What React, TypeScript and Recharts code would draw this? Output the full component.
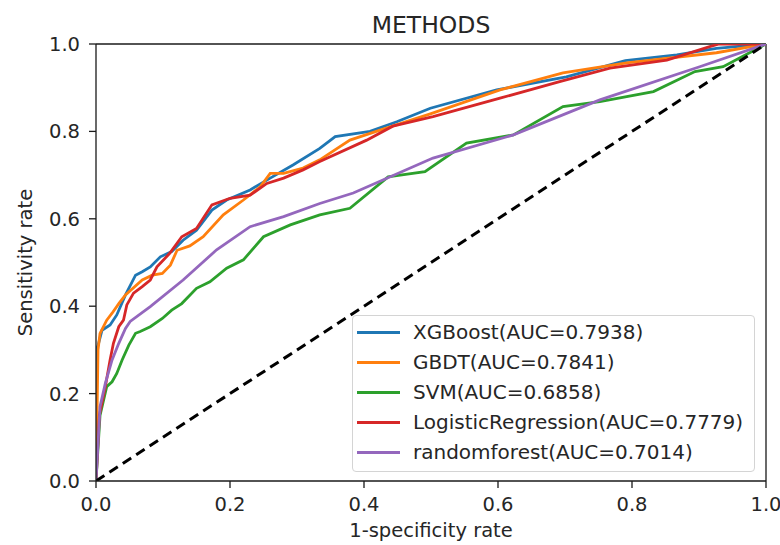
import React from 'react';
import { LineChart, Line, XAxis, YAxis, ReferenceLine } from 'recharts';

const FONT = '"DejaVu Sans", "Liberation Sans", sans-serif';

const xgbFpr = [0, 0, 0.003, 0.009, 0.021, 0.031, 0.044, 0.059, 0.069, 0.081, 0.096, 0.113, 0.13, 0.15, 0.173, 0.195, 0.23, 0.26, 0.294, 0.334, 0.357, 0.409, 0.449, 0.499, 0.598, 0.702, 0.79, 0.867, 0.926, 1];
const xgbTpr = [0, 0.3, 0.31, 0.345, 0.357, 0.38, 0.426, 0.471, 0.479, 0.49, 0.513, 0.525, 0.551, 0.574, 0.62, 0.643, 0.666, 0.693, 0.723, 0.761, 0.788, 0.8, 0.822, 0.853, 0.895, 0.925, 0.962, 0.975, 0.99, 1];

const gbdtFpr = [0, 0.003, 0.006, 0.016, 0.024, 0.034, 0.044, 0.069, 0.084, 0.099, 0.111, 0.121, 0.14, 0.16, 0.19, 0.22, 0.245, 0.26, 0.28, 0.309, 0.334, 0.379, 0.424, 0.499, 0.603, 0.697, 0.792, 0.926, 1];
const gbdtTpr = [0, 0.3, 0.338, 0.368, 0.384, 0.406, 0.426, 0.46, 0.471, 0.475, 0.494, 0.528, 0.538, 0.559, 0.609, 0.643, 0.673, 0.704, 0.704, 0.716, 0.735, 0.78, 0.803, 0.84, 0.895, 0.934, 0.957, 0.98, 1];

const svmFpr = [0, 0.006, 0.016, 0.024, 0.031, 0.039, 0.049, 0.059, 0.066, 0.081, 0.099, 0.113, 0.128, 0.15, 0.17, 0.195, 0.22, 0.25, 0.29, 0.334, 0.379, 0.436, 0.454, 0.491, 0.553, 0.623, 0.697, 0.752, 0.832, 0.894, 0.936, 1];
const svmTpr = [0, 0.15, 0.216, 0.227, 0.246, 0.277, 0.311, 0.338, 0.342, 0.353, 0.372, 0.391, 0.406, 0.441, 0.456, 0.487, 0.506, 0.559, 0.586, 0.609, 0.624, 0.696, 0.7, 0.708, 0.773, 0.792, 0.857, 0.868, 0.891, 0.937, 0.948, 1];

const lrFpr = [0, 0.005, 0.014, 0.021, 0.026, 0.034, 0.041, 0.046, 0.056, 0.069, 0.081, 0.091, 0.11, 0.128, 0.15, 0.173, 0.2, 0.23, 0.255, 0.28, 0.309, 0.334, 0.404, 0.443, 0.503, 0.603, 0.692, 0.767, 0.852, 0.916, 0.93, 1];
const lrTpr = [0, 0.15, 0.216, 0.277, 0.315, 0.353, 0.368, 0.403, 0.43, 0.445, 0.46, 0.49, 0.521, 0.559, 0.578, 0.632, 0.647, 0.654, 0.681, 0.693, 0.712, 0.731, 0.78, 0.812, 0.834, 0.876, 0.914, 0.945, 0.963, 0.994, 1, 1];

const rfFpr = [0, 0.006, 0.014, 0.024, 0.034, 0.044, 0.051, 0.081, 0.13, 0.18, 0.23, 0.28, 0.334, 0.384, 0.503, 0.623, 0.752, 0.901, 1];
const rfTpr = [0, 0.17, 0.224, 0.277, 0.315, 0.349, 0.365, 0.399, 0.46, 0.529, 0.582, 0.605, 0.635, 0.659, 0.739, 0.792, 0.872, 0.948, 1];

const diagFpr = [0, 1];
const diagTpr = [0, 1];

const axisTicks = [0, 0.2, 0.4, 0.6, 0.8, 1];

const seriesNames = [
  'XGBoost(AUC=0.7938)',
  'GBDT(AUC=0.7841)',
  'SVM(AUC=0.6858)',
  'LogisticRegression(AUC=0.7779)',
  'randomforest(AUC=0.7014)',
];
const seriesColors = ['#1f77b4', '#ff7f0e', '#2ca02c', '#d62728', '#9467bd'];

const toPoints = (xs: number[], ys: number[]) => xs.map((x, i) => ({ x, y: ys[i] }));

const series = [
  toPoints(xgbFpr, xgbTpr),
  toPoints(gbdtFpr, gbdtTpr),
  toPoints(svmFpr, svmTpr),
  toPoints(lrFpr, lrTpr),
  toPoints(rfFpr, rfTpr),
];
const diagonal = toPoints(diagFpr, diagTpr);

const tickStyle = { fontSize: 19.5, fill: '#262626', fontFamily: FONT };
const spine = '#1a1a1a';

const LegendBox = () => (
  <div
    style={{
      position: 'absolute',
      left: 352,
      top: 315,
      boxSizing: 'border-box',
      width: 403,
      height: 157,
      border: '1.3px solid #d4d4d4',
      borderRadius: 4,
      background: 'rgba(255,255,255,0.85)',
      paddingTop: 1,
      fontFamily: FONT,
      fontSize: 20,
      color: '#262626',
    }}
  >
    {seriesNames.map((name, i) => (
      <div key={name} style={{ height: 30, display: 'flex', alignItems: 'center' }}>
        <div style={{ marginLeft: 4, width: 43, height: 3, background: seriesColors[i] }} />
        <span style={{ marginLeft: 13, whiteSpace: 'nowrap', lineHeight: '30px' }}>{name}</span>
      </div>
    ))}
  </div>
);

export default function App() {
  return (
    <div style={{ position: 'absolute', left: 0, top: 0, width: 780, height: 545, background: '#fff' }}>
      <LineChart
        width={780}
        height={545}
        margin={{ top: 44, right: 14, left: 0, bottom: 0 }}
        style={{ fontFamily: FONT }}
      >
        <XAxis
          dataKey="x"
          type="number"
          domain={[0, 1]}
          ticks={axisTicks}
          tickFormatter={(v: number) => v.toFixed(1)}
          allowDataOverflow
          height={64}
          tickSize={7}
          tickMargin={9}
          tick={tickStyle}
          stroke={spine}
          strokeWidth={1.3}
          label={{ value: '1-specificity rate', position: 'insideBottom', offset: 8, style: { fontSize: 19.5, fill: '#262626', fontFamily: FONT } }}
        />
        <YAxis
          dataKey="y"
          type="number"
          domain={[0, 1]}
          ticks={axisTicks}
          tickFormatter={(v: number) => v.toFixed(1)}
          allowDataOverflow
          width={96}
          tickSize={7}
          tickMargin={9}
          tick={tickStyle}
          stroke={spine}
          strokeWidth={1.3}
          label={{ value: 'Sensitivity rate', angle: -90, position: 'insideLeft', offset: 25, style: { fontSize: 19.5, fill: '#262626', fontFamily: FONT, textAnchor: 'middle' } }}
        />
        <ReferenceLine
          y={1}
          stroke={spine}
          strokeWidth={1.3}
          label={{ value: 'METHODS', position: 'top', offset: 11, style: { fontSize: 23.5, fill: '#262626', fontFamily: FONT } }}
        />
        <ReferenceLine x={1} stroke={spine} strokeWidth={1.3} />
        {series.map((pts, i) => (
          <Line
            key={seriesNames[i]}
            data={pts}
            dataKey="y"
            name={seriesNames[i]}
            type="linear"
            stroke={seriesColors[i]}
            strokeWidth={2.8}
            dot={false}
            activeDot={false}
            isAnimationActive={false}
          />
        ))}
        <Line
          data={diagonal}
          dataKey="y"
          name="diagonal"
          legendType="none"
          type="linear"
          stroke="#000"
          strokeWidth={3}
          strokeDasharray="10 6"
          dot={false}
          activeDot={false}
          isAnimationActive={false}
        />
      </LineChart>
      <LegendBox />
    </div>
  );
}
